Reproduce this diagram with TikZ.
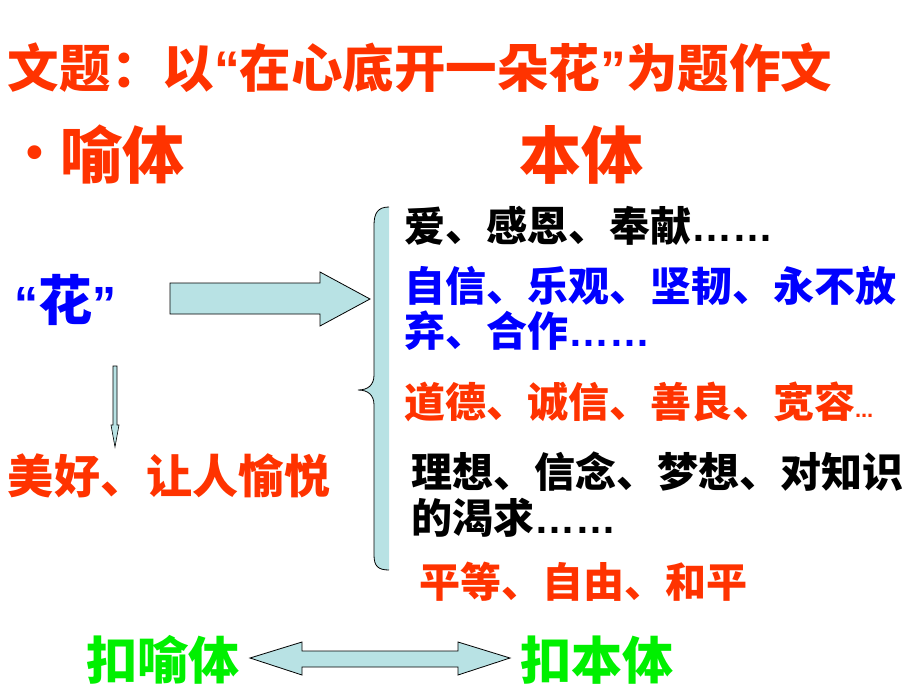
\documentclass[tikz,border=0pt]{standalone}
\usepackage{fontspec}
\newfontfamily\cjk{Noto Sans CJK SC}
\newfontfamily\lat{Liberation Sans}
\usetikzlibrary{positioning}

\definecolor{hired}{RGB}{255,51,0}
\definecolor{hiblue}{RGB}{0,0,255}
\definecolor{higreen}{RGB}{0,240,0}
\definecolor{pale}{RGB}{184,226,228}

\newcommand{\fs}[1]{\fontsize{#1}{#1}\selectfont}

\begin{document}
\begin{tikzpicture}[x=1pt,y=-1pt]
        \tikzstyle{every node}=[inner sep=0pt,outer sep=0pt,font=\cjk\bfseries]
        \tikzstyle{txt}=[anchor=west]
        \tikzstyle{big}=[txt,font=\cjk\bfseries\fs{51}]
        \tikzstyle{mid}=[txt,font=\cjk\bfseries\fs{41}]
        \tikzstyle{blockarrow}=[draw=black,fill=pale,line width=0.8pt,line join=miter]

        \useasboundingbox (0,0) rectangle (920,690);

        % heading
        \node[txt,text=hired,font=\cjk\bfseries\fs{51.5}] (title) at (8,68)
            {文题：以{\lat“}在心底开一朵花{\lat”}为题作文};
        \node[txt,text=hired,font=\lat\bfseries\fs{48}] (dot) at (26,157) {\textbullet};
        \node[txt,text=hired,font=\cjk\bfseries\fs{62}] (yuti) at (60,155) {喻体};
        \node[txt,text=hired,font=\cjk\bfseries\fs{62}] (benti) at (519,155) {本体};

        % left side
        \node[txt,text=hiblue] (hua) at (14,300)
            {{\lat\bfseries\fs{48}“}{\fs{54}花}{\lat\bfseries\fs{48}”}};
        \node[txt,text=hired,font=\cjk\bfseries\fs{46}] (meihao) at (8,476) {美好、让人愉悦};

        % right side
        \node[mid] (ai) at (404,226) {爱、感恩、奉献{\lat……}};
        \node[mid,text=hiblue] (zixin) at (404,286) {自信、乐观、坚韧、永不放};
        \node[mid,text=hiblue] (qi) at (404,331) {弃、合作{\lat……}};
        \node[mid,text=hired] (daode) at (404,402) {道德、诚信、善良、宽容{\lat\fs{22}...}};
        \node[mid] (lixiang) at (411,472) {理想、信念、梦想、对知识};
        \node[mid] (ke) at (411,518) {的渴求{\lat……}};
        \node[mid,text=hired] (pingdeng) at (419,582) {平等、自由、和平};

        % bottom
        \node[big,text=higreen] (kouyu) at (86,660) {扣喻体};
        \node[big,text=higreen] (kouben) at (520,660) {扣本体};

        % brace
        \fill[pale] (389,207) .. controls (378,207) and (374,213) .. (374,225) -- (374,375)
            .. controls (374,385) and (368,390) .. (358,390)
            .. controls (368,390) and (374,395) .. (374,405) -- (374,555)
            .. controls (374,566) and (378,570) .. (389,570) -- cycle;
        \draw[line width=0.8pt] (389,207) .. controls (378,207) and (374,213) .. (374,225) -- (374,375)
            .. controls (374,385) and (368,390) .. (358,390)
            .. controls (368,390) and (374,395) .. (374,405) -- (374,555)
            .. controls (374,566) and (378,570) .. (389,570);

        % arrows
        \draw[blockarrow] (170,283) -- (320,283) -- (320,272) -- (370,299)
            -- (320,326) -- (320,314) -- (170,314) -- cycle;   % hua -> brace
        \draw[blockarrow,line width=0.6pt] (113,366) -- (117,366) -- (117,425) -- (119,425)
            -- (115,447) -- (111,425) -- (113,425) -- cycle;   % hua -> meihao
        \draw[blockarrow] (250,658) -- (302,642) -- (302,651) -- (458,651) -- (458,642)
            -- (510,658) -- (458,675) -- (458,667) -- (302,667) -- (302,675) -- cycle; % kouyu <-> kouben
\end{tikzpicture}
\end{document}
